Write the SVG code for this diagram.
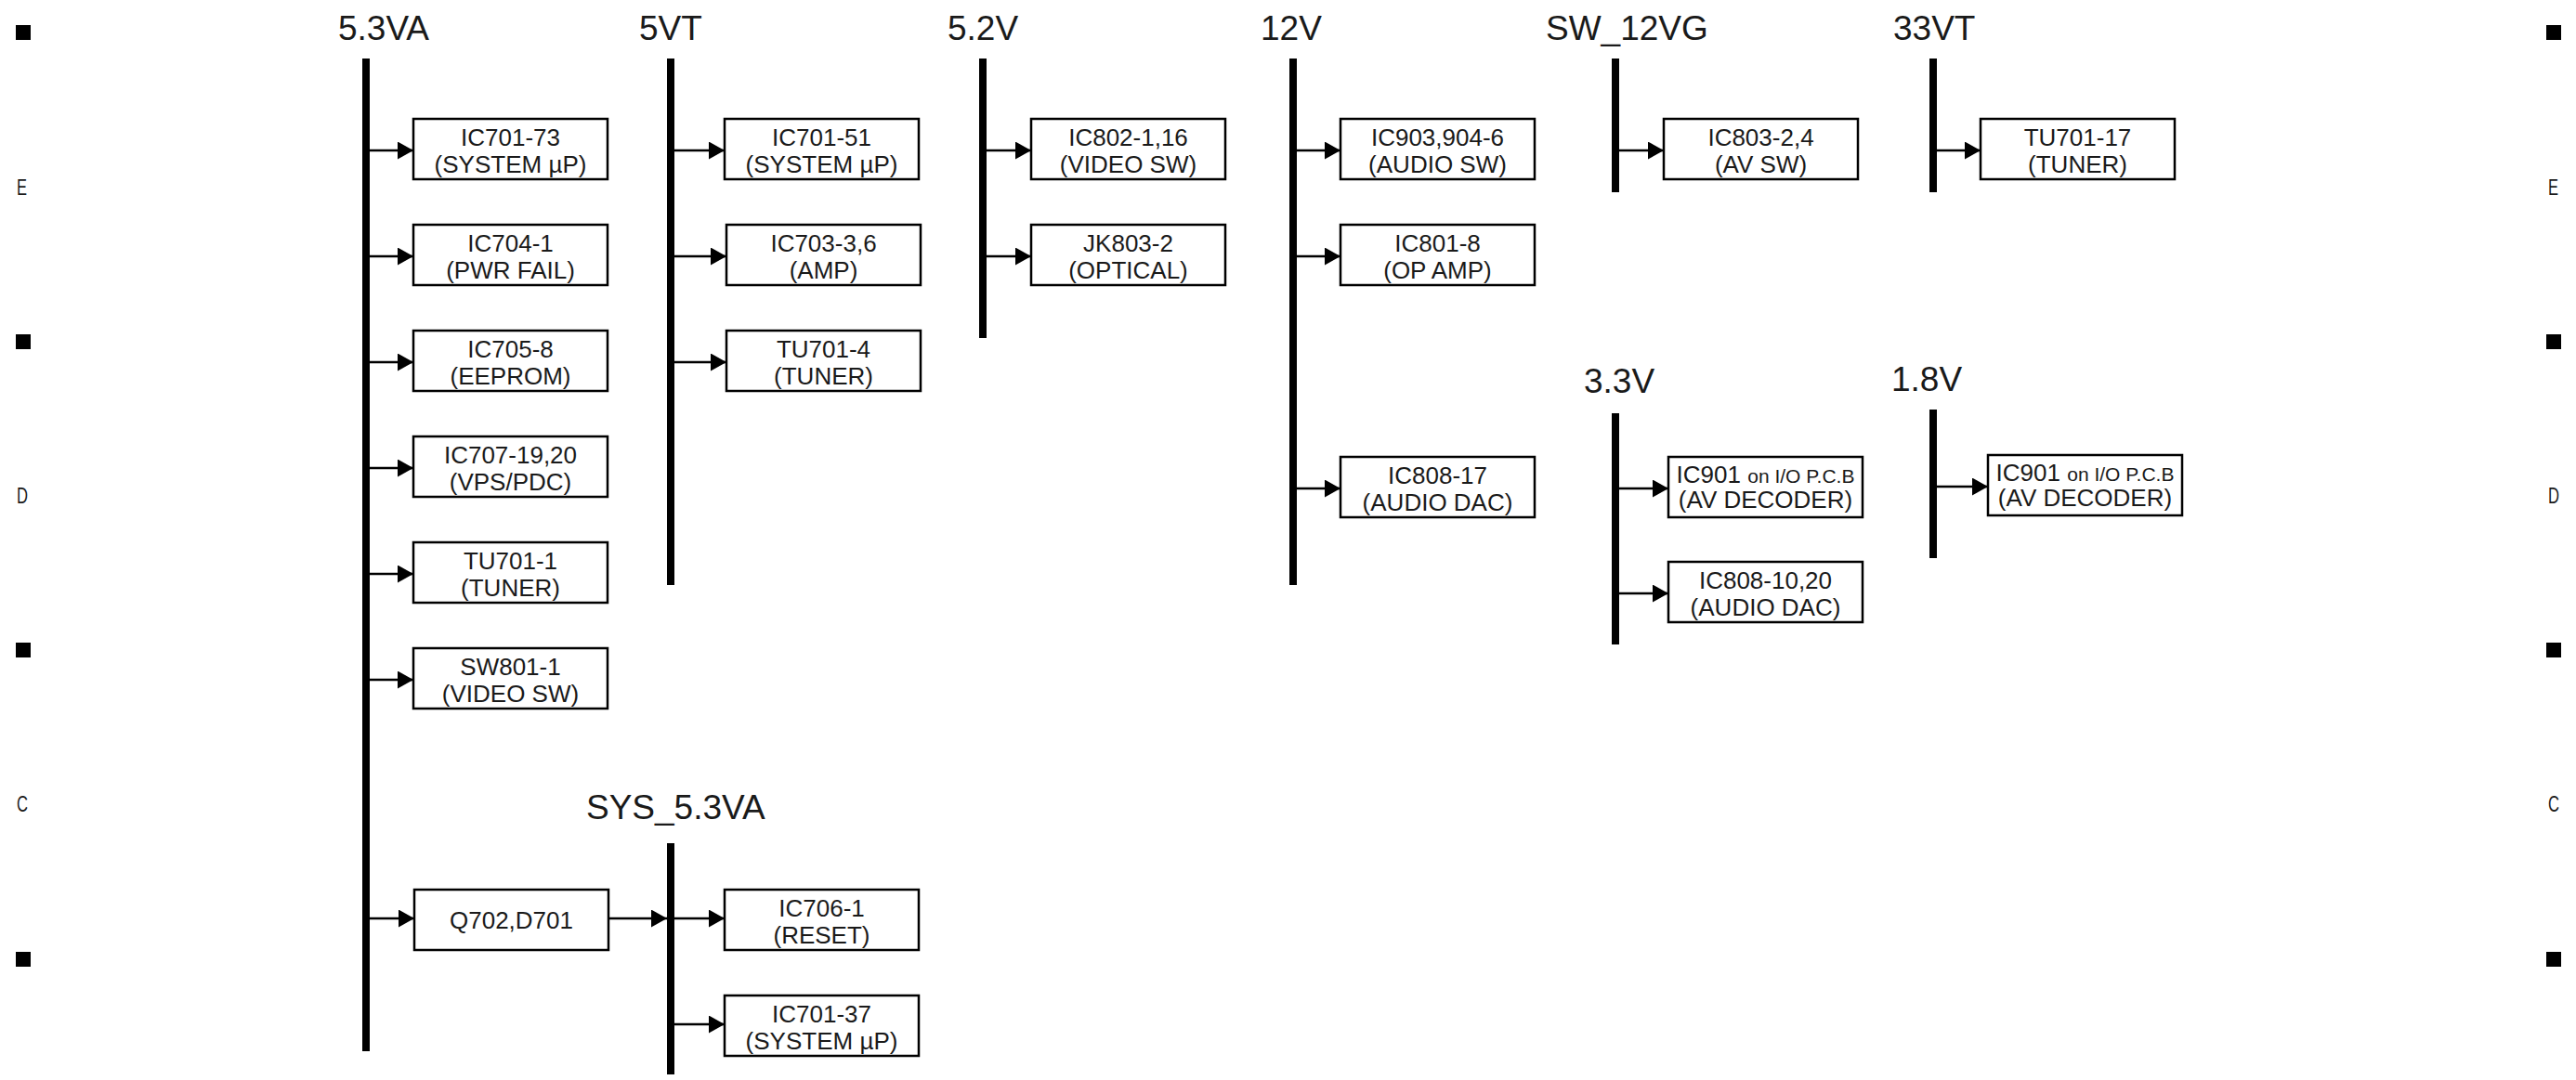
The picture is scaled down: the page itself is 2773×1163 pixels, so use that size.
<svg xmlns="http://www.w3.org/2000/svg" width="2773" height="1163" viewBox="0 0 2773 1163">
<defs>
<style>
.bus{fill:#000}
.box{fill:#fff;stroke:#000;stroke-width:2.5}
.t{font-family:"Liberation Sans",Arial,sans-serif;font-size:26px;fill:#1a1a1a;text-anchor:middle}
.s{font-size:21px}
.lbl{font-family:"Liberation Sans",Arial,sans-serif;font-size:37px;fill:#1a1a1a}
.mk{font-family:"Liberation Sans",Arial,sans-serif;font-size:23px;fill:#1a1a1a}
.c{stroke:#000;stroke-width:2.5;fill:none;marker-end:url(#ah)}
</style>
<marker id="ah" markerUnits="userSpaceOnUse" markerWidth="18" markerHeight="20" refX="17" refY="9.5" orient="auto">
<path d="M0,0 L17,9.5 L0,19 z" fill="#000"/>
</marker>
</defs>
<rect width="2773" height="1163" fill="#fff"/>

<g id="margin">
<rect x="17" y="27" width="16" height="16"/>
<rect x="17" y="360" width="16" height="16"/>
<rect x="17" y="692" width="16" height="16"/>
<rect x="17" y="1025" width="16" height="16"/>
<rect x="2741" y="27" width="16" height="16"/>
<rect x="2741" y="360" width="16" height="16"/>
<rect x="2741" y="692" width="16" height="16"/>
<rect x="2741" y="1025" width="16" height="16"/>
<text class="mk" x="18" y="210" textLength="11" lengthAdjust="spacingAndGlyphs">E</text>
<text class="mk" x="18" y="542" textLength="12" lengthAdjust="spacingAndGlyphs">D</text>
<text class="mk" x="18" y="874" textLength="12" lengthAdjust="spacingAndGlyphs">C</text>
<text class="mk" x="2743" y="210" textLength="11" lengthAdjust="spacingAndGlyphs">E</text>
<text class="mk" x="2743" y="542" textLength="12" lengthAdjust="spacingAndGlyphs">D</text>
<text class="mk" x="2743" y="874" textLength="12" lengthAdjust="spacingAndGlyphs">C</text>
</g>

<g id="buses">
<g id="bus-5.3VA"><text class="lbl" x="364" y="43">5.3VA</text><rect class="bus" x="390" y="63" width="8" height="1069"/></g>
<g id="bus-5VT"><text class="lbl" x="688" y="43">5VT</text><rect class="bus" x="718" y="63" width="8" height="567"/></g>
<g id="bus-5.2V"><text class="lbl" x="1020" y="43">5.2V</text><rect class="bus" x="1054" y="63" width="8" height="301"/></g>
<g id="bus-12V"><text class="lbl" x="1357" y="43">12V</text><rect class="bus" x="1388" y="63" width="8" height="567"/></g>
<g id="bus-SW_12VG"><text class="lbl" x="1664" y="43">SW_12VG</text><rect class="bus" x="1735" y="63" width="8" height="144"/></g>
<g id="bus-33VT"><text class="lbl" x="2038" y="43">33VT</text><rect class="bus" x="2077" y="63" width="8" height="144"/></g>
<g id="bus-3.3V"><text class="lbl" x="1705" y="423">3.3V</text><rect class="bus" x="1735" y="445" width="8" height="249"/></g>
<g id="bus-1.8V"><text class="lbl" x="2036" y="421">1.8V</text><rect class="bus" x="2077" y="441" width="8" height="160"/></g>
<g id="bus-SYS_5.3VA"><text class="lbl" x="631" y="882">SYS_5.3VA</text><rect class="bus" x="718" y="908" width="8" height="249"/></g>
</g>

<g id="connectors">
<line class="c" x1="398" y1="162" x2="445" y2="162"/>
<line class="c" x1="398" y1="276" x2="445" y2="276"/>
<line class="c" x1="398" y1="390" x2="445" y2="390"/>
<line class="c" x1="398" y1="504" x2="445" y2="504"/>
<line class="c" x1="398" y1="618" x2="445" y2="618"/>
<line class="c" x1="398" y1="732" x2="445" y2="732"/>
<line class="c" x1="398" y1="989" x2="446" y2="989"/>
<line class="c" x1="655" y1="989" x2="718" y2="989"/>
<line class="c" x1="726" y1="989" x2="780" y2="989"/>
<line class="c" x1="726" y1="1103" x2="780" y2="1103"/>
<line class="c" x1="726" y1="162" x2="780" y2="162"/>
<line class="c" x1="726" y1="276" x2="782" y2="276"/>
<line class="c" x1="726" y1="390" x2="782" y2="390"/>
<line class="c" x1="1062" y1="162" x2="1110" y2="162"/>
<line class="c" x1="1062" y1="276" x2="1110" y2="276"/>
<line class="c" x1="1396" y1="162" x2="1443" y2="162"/>
<line class="c" x1="1396" y1="276" x2="1443" y2="276"/>
<line class="c" x1="1396" y1="526" x2="1443" y2="526"/>
<line class="c" x1="1743" y1="162" x2="1791" y2="162"/>
<line class="c" x1="2085" y1="162" x2="2132" y2="162"/>
<line class="c" x1="1743" y1="526" x2="1796" y2="526"/>
<line class="c" x1="1743" y1="639" x2="1796" y2="639"/>
<line class="c" x1="2085" y1="524" x2="2140" y2="524"/>
</g>

<g id="n-IC701-73"><rect class="box" x="445" y="128" width="209" height="65"/><text class="t" x="549.5" y="157">IC701-73</text><text class="t" x="549.5" y="186">(SYSTEM µP)</text></g>
<g id="n-IC704-1"><rect class="box" x="445" y="242" width="209" height="65"/><text class="t" x="549.5" y="271">IC704-1</text><text class="t" x="549.5" y="300">(PWR FAIL)</text></g>
<g id="n-IC705-8"><rect class="box" x="445" y="356" width="209" height="65"/><text class="t" x="549.5" y="385">IC705-8</text><text class="t" x="549.5" y="414">(EEPROM)</text></g>
<g id="n-IC707"><rect class="box" x="445" y="470" width="209" height="65"/><text class="t" x="549.5" y="499">IC707-19,20</text><text class="t" x="549.5" y="528">(VPS/PDC)</text></g>
<g id="n-TU701-1"><rect class="box" x="445" y="584" width="209" height="65"/><text class="t" x="549.5" y="613">TU701-1</text><text class="t" x="549.5" y="642">(TUNER)</text></g>
<g id="n-SW801-1"><rect class="box" x="445" y="698" width="209" height="65"/><text class="t" x="549.5" y="727">SW801-1</text><text class="t" x="549.5" y="756">(VIDEO SW)</text></g>
<g id="n-Q702"><rect class="box" x="446" y="958" width="209" height="65"/><text class="t" x="550.5" y="1000">Q702,D701</text></g>

<g id="n-IC701-51"><rect class="box" x="780" y="128" width="209" height="65"/><text class="t" x="884.5" y="157">IC701-51</text><text class="t" x="884.5" y="186">(SYSTEM µP)</text></g>
<g id="n-IC703"><rect class="box" x="782" y="242" width="209" height="65"/><text class="t" x="886.5" y="271">IC703-3,6</text><text class="t" x="886.5" y="300">(AMP)</text></g>
<g id="n-TU701-4"><rect class="box" x="782" y="356" width="209" height="65"/><text class="t" x="886.5" y="385">TU701-4</text><text class="t" x="886.5" y="414">(TUNER)</text></g>

<g id="n-IC706-1"><rect class="box" x="780" y="958" width="209" height="65"/><text class="t" x="884.5" y="987">IC706-1</text><text class="t" x="884.5" y="1016">(RESET)</text></g>
<g id="n-IC701-37"><rect class="box" x="780" y="1072" width="209" height="65"/><text class="t" x="884.5" y="1101">IC701-37</text><text class="t" x="884.5" y="1130">(SYSTEM µP)</text></g>

<g id="n-IC802"><rect class="box" x="1110" y="128" width="209" height="65"/><text class="t" x="1214.5" y="157">IC802-1,16</text><text class="t" x="1214.5" y="186">(VIDEO SW)</text></g>
<g id="n-JK803"><rect class="box" x="1110" y="242" width="209" height="65"/><text class="t" x="1214.5" y="271">JK803-2</text><text class="t" x="1214.5" y="300">(OPTICAL)</text></g>

<g id="n-IC903"><rect class="box" x="1443" y="128" width="209" height="65"/><text class="t" x="1547.5" y="157">IC903,904-6</text><text class="t" x="1547.5" y="186">(AUDIO SW)</text></g>
<g id="n-IC801"><rect class="box" x="1443" y="242" width="209" height="65"/><text class="t" x="1547.5" y="271">IC801-8</text><text class="t" x="1547.5" y="300">(OP AMP)</text></g>
<g id="n-IC808-17"><rect class="box" x="1443" y="492" width="209" height="65"/><text class="t" x="1547.5" y="521">IC808-17</text><text class="t" x="1547.5" y="550">(AUDIO DAC)</text></g>

<g id="n-IC803"><rect class="box" x="1791" y="128" width="209" height="65"/><text class="t" x="1895.5" y="157">IC803-2,4</text><text class="t" x="1895.5" y="186">(AV SW)</text></g>
<g id="n-TU701-17"><rect class="box" x="2132" y="128" width="209" height="65"/><text class="t" x="2236.5" y="157">TU701-17</text><text class="t" x="2236.5" y="186">(TUNER)</text></g>

<g id="n-IC901-a"><rect class="box" x="1796" y="492" width="209" height="65"/><text class="t" x="1900.5" y="520">IC901 <tspan class="s">on I/O P.C.B</tspan></text><text class="t" x="1900.5" y="547">(AV DECODER)</text></g>
<g id="n-IC808-10"><rect class="box" x="1796" y="605" width="209" height="65"/><text class="t" x="1900.5" y="634">IC808-10,20</text><text class="t" x="1900.5" y="663">(AUDIO DAC)</text></g>
<g id="n-IC901-b"><rect class="box" x="2140" y="490" width="209" height="65"/><text class="t" x="2244.5" y="518">IC901 <tspan class="s">on I/O P.C.B</tspan></text><text class="t" x="2244.5" y="545">(AV DECODER)</text></g>
</svg>
